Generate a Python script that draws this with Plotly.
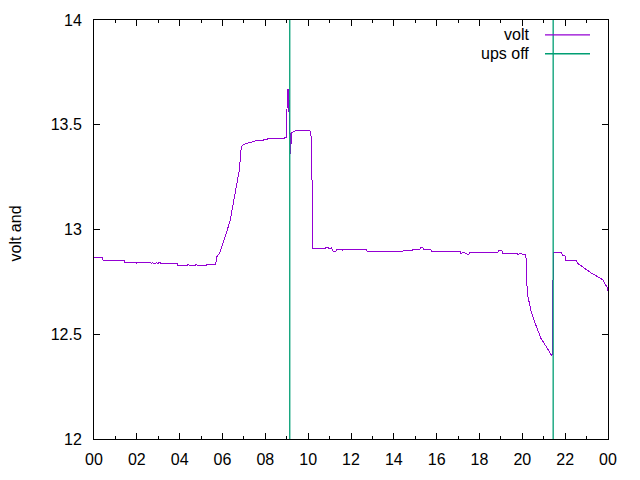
import plotly.graph_objects as go

# Battery voltage over one day (hours since midnight)
hours = [0.00, 0.40, 0.42, 1.40, 1.42, 1.97, 1.99, 2.02, 2.66, 2.68, 2.72, 2.86, 2.92, 2.98, 3.02, 3.10,
         3.12, 3.88, 3.90, 4.36, 4.40, 4.46, 4.72, 4.76, 4.84, 5.24, 5.26, 5.66, 5.70, 5.73, 5.88, 6.00,
         6.12, 6.35, 6.50, 6.66, 6.78, 6.84, 6.88, 6.97, 7.36, 7.55, 7.62, 7.91, 8.22, 9.00, 9.02, 9.06,
         9.08, 9.10, 9.13, 9.17, 9.19, 9.21, 9.28, 9.43, 10.08, 10.13, 10.19, 10.20, 10.79, 10.81, 10.94,
         11.00, 11.08, 11.17, 11.30, 11.32, 11.58, 11.60, 11.63, 12.26, 12.73, 12.75, 14.38, 14.40, 14.45,
         14.85, 14.87, 15.22, 15.24, 15.36, 15.38, 15.73, 15.75, 17.10, 17.12, 17.30, 17.48, 17.55, 18.20,
         18.86, 18.88, 19.05, 19.07, 19.76, 19.78, 19.90, 19.97, 20.16, 20.18, 20.20, 20.23, 20.33, 20.39,
         20.51, 20.67, 20.86, 21.06, 21.21, 21.37, 21.39, 21.40, 21.44, 21.47, 21.84, 21.86, 21.99, 22.01,
         22.50, 22.60, 22.70, 22.92, 23.06, 23.25, 23.48, 23.76, 23.85, 23.95, 24.00]
volt = [12.866, 12.866, 12.853, 12.853, 12.842, 12.842, 12.836, 12.842, 12.842, 12.836, 12.842, 12.836,
        12.842, 12.836, 12.842, 12.842, 12.837, 12.837, 12.826, 12.826, 12.835, 12.826, 12.826, 12.835,
        12.826, 12.826, 12.834, 12.834, 12.845, 12.870, 12.890, 12.925, 12.964, 13.040, 13.120, 13.200,
        13.280, 13.350, 13.395, 13.406, 13.417, 13.420, 13.425, 13.427, 13.435, 13.437, 13.660, 13.670,
        13.560, 13.660, 13.460, 13.460, 13.360, 13.460, 13.463, 13.473, 13.473, 13.460, 13.190, 12.908,
        12.908, 12.913, 12.913, 12.908, 12.913, 12.896, 12.896, 12.906, 12.906, 12.900, 12.906, 12.906,
        12.906, 12.896, 12.896, 12.892, 12.900, 12.900, 12.906, 12.906, 12.913, 12.913, 12.906, 12.906,
        12.896, 12.896, 12.886, 12.890, 12.880, 12.890, 12.890, 12.890, 12.900, 12.900, 12.885, 12.885,
        12.880, 12.885, 12.883, 12.883, 12.853, 12.766, 12.695, 12.648, 12.616, 12.577, 12.530, 12.482,
        12.450, 12.427, 12.398, 12.400, 12.645, 12.892, 12.892, 12.892, 12.877, 12.877, 12.853, 12.853,
        12.837, 12.830, 12.814, 12.800, 12.790, 12.777, 12.760, 12.743, 12.725, 12.706]

# UPS-off status drawn on the same axis (goes far off-scale)
ups_hours = [0.00, 9.14, 9.14, 21.44, 21.44, 24.00]
ups_off = [0, 0, 100, 100, 0, 0]

x_ticks = list(range(0, 25, 2))
x_labels = ["00", "02", "04", "06", "08", "10", "12", "14", "16", "18", "20", "22", "00"]
y_ticks = [12, 12.5, 13, 13.5, 14]
y_labels = ["12", "12.5", "13", "13.5", "14"]

PURPLE = "#9400D3"
GREEN = "#009E73"
FONT = "Liberation Sans, Arial, sans-serif"

fig = go.Figure()
fig.add_trace(go.Scatter(x=hours, y=volt, mode="lines", name="volt",
                         line=dict(color=PURPLE, width=1), showlegend=False))
fig.add_trace(go.Scatter(x=ups_hours, y=ups_off, mode="lines", name="ups off",
                         line=dict(color=GREEN, width=1.3), showlegend=False))

axis_common = dict(showline=True, linecolor="black", linewidth=1, mirror="allticks",
                   ticks="inside", tickcolor="black", tickwidth=1, ticklen=6,
                   showgrid=False, zeroline=False,
                   tickfont=dict(family=FONT, size=16, color="black"))

fig.update_xaxes(range=[0, 24], tickvals=x_ticks, ticktext=x_labels, ticklabelstandoff=6,
                 minor=dict(dtick=1, ticks="inside", ticklen=3, tickcolor="black", showgrid=False),
                 **axis_common)
fig.update_yaxes(range=[12, 14], tickvals=y_ticks, ticktext=y_labels, ticklabelstandoff=8,
                 **axis_common)

# gnuplot-style key (text right, sample on the right side)
key_rows = [("volt", PURPLE, 33), ("ups off", GREEN, 52)]
for label, color, py in key_rows:
    yp = (440 - py) / 422
    fig.add_annotation(x=(531 - 94) / 514, y=yp, xref="paper", yref="paper",
                       text=label, showarrow=False, xanchor="right", yanchor="middle",
                       font=dict(family=FONT, size=16, color="black"))
    fig.add_shape(type="line", xref="paper", yref="paper",
                  x0=(545 - 94) / 514, x1=(590 - 94) / 514, y0=yp, y1=yp,
                  line=dict(color=color, width=1.3))

fig.add_annotation(x=(15 - 94) / 514, y=(440 - 233) / 422, xref="paper", yref="paper",
                   text="volt and", showarrow=False, textangle=-90,
                   xanchor="center", yanchor="middle",
                   font=dict(family=FONT, size=16, color="black"))

fig.update_layout(width=640, height=480, margin=dict(l=94, r=32, t=18, b=40),
                  plot_bgcolor="white", paper_bgcolor="white",
                  font=dict(family=FONT, size=16, color="black"))

crisp = ("var s=document.createElement('style');"
         "s.textContent='.scatterlayer .trace:first-child path.js-line{shape-rendering:crispEdges}';"
         "document.head.appendChild(s);")
fig.write_html("out.html", post_script=crisp)
